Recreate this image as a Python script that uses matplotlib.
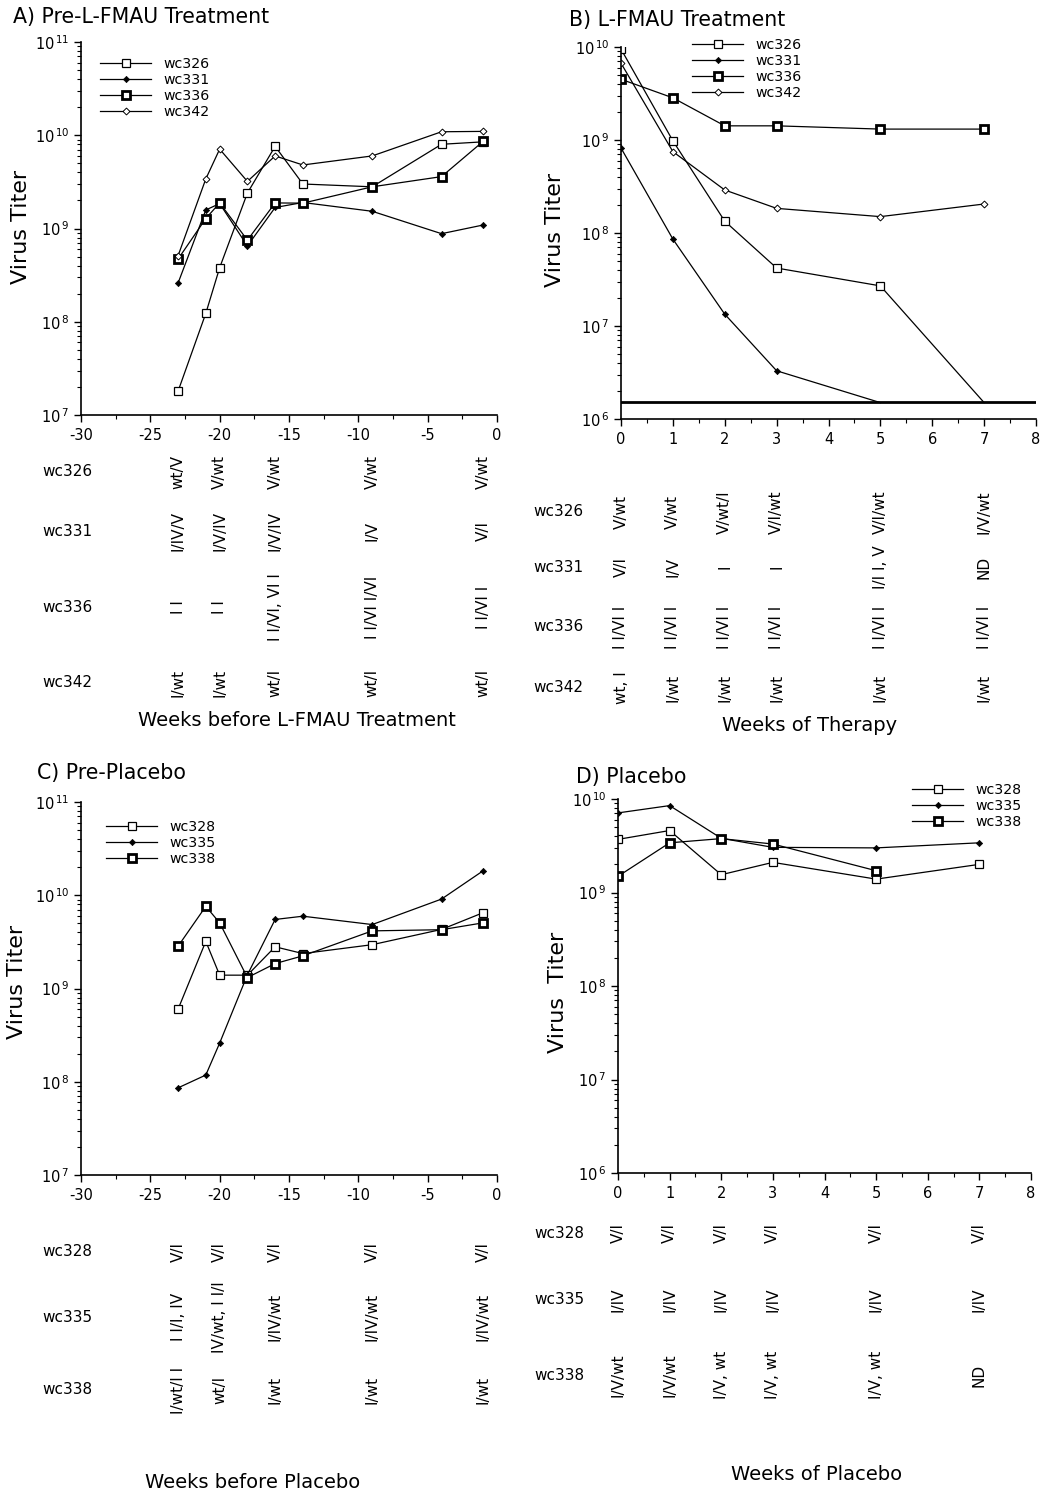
import numpy as np
import matplotlib
matplotlib.use('Agg')
import matplotlib.pyplot as plt
from matplotlib.ticker import LogLocator, FuncFormatter, MultipleLocator, NullFormatter
from matplotlib.transforms import blended_transform_factory

plt.rcParams['axes.unicode_minus'] = False

# --- data ---
pre_weeks = [-23, -21, -20, -18, -16, -14, -9, -4, -1]
A_wc326 = [1.8e7, 1.23e8, 3.8e8, 2.4e9, 7.6e9, 3.0e9, 2.8e9, 8.0e9, 8.5e9]
A_wc331 = [2.6e8, 1.58e9, 1.85e9, 6.5e8, 1.68e9, 1.9e9, 1.53e9, 8.8e8, 1.09e9]
A_wc336 = [4.7e8, 1.28e9, 1.88e9, 7.5e8, 1.88e9, 1.87e9, 2.8e9, 3.6e9, 8.6e9]
A_wc342 = [5.1e8, 3.4e9, 7.1e9, 3.2e9, 6.0e9, 4.8e9, 6.0e9, 1.09e10, 1.1e10]

tx_weeks = [0, 1, 2, 3, 5, 7]
B_wc326 = [9.5e9, 9.8e8, 1.34e8, 4.2e7, 2.7e7, 1.5e6]
B_wc331_weeks = [0, 1, 2, 3, 5]
B_wc331 = [8.2e8, 8.6e7, 1.34e7, 3.3e6, 1.5e6]
B_wc336 = [4.5e9, 2.84e9, 1.42e9, 1.42e9, 1.31e9, 1.31e9]
B_wc342 = [6.7e9, 7.5e8, 2.9e8, 1.84e8, 1.5e8, 2.05e8]
B_limit = 1.52e6

C_wc328 = [6.0e8, 3.2e9, 1.39e9, 1.39e9, 2.8e9, 2.37e9, 2.95e9, 4.3e9, 6.5e9]
C_wc335 = [8.6e7, 1.18e8, 2.6e8, 1.4e9, 5.5e9, 5.96e9, 4.85e9, 9.1e9, 1.83e10]
C_wc338 = [2.84e9, 7.6e9, 5.06e9, 1.31e9, 1.85e9, 2.24e9, 4.15e9, 4.27e9, 5.06e9]

D_wc328 = [3.7e9, 4.6e9, 1.55e9, 2.1e9, 1.39e9, 2.0e9]
D_wc335 = [7.1e9, 8.5e9, 3.8e9, 3.04e9, 3.0e9, 3.4e9]
D_wc338_weeks = [0, 1, 2, 3, 5]
D_wc338 = [1.49e9, 3.4e9, 3.77e9, 3.3e9, 1.71e9]

# genotype annotations under each panel
pre_ann_weeks = [-23, -20, -16, -9, -1]
A_txt_wc326 = ['wt/V', 'V/wt', 'V/wt', 'V/wt', 'V/wt']
A_txt_wc331 = ['I/IV/V', 'I/V/IV', 'I/V/IV', 'I/V', 'V/I']
A_txt_wc336 = ['I I', 'I I', 'I I/VI, VI I', 'I I/VI I/VI', 'I I/VI I']
A_txt_wc342 = ['I/wt', 'I/wt', 'wt/I', 'wt/I', 'wt/I']

B_txt_wc326 = ['V/wt', 'V/wt', 'V/wt/I', 'V/I/wt', 'V/I/wt', 'I/V/wt']
B_txt_wc331 = ['V/I', 'I/V', 'I', 'I', 'I/I I, V', 'ND']
B_txt_wc336 = ['I I/VI I'] * 6
B_txt_wc342 = ['wt, I', 'I/wt', 'I/wt', 'I/wt', 'I/wt', 'I/wt']

C_txt_wc328 = ['V/I', 'V/I', 'V/I', 'V/I', 'V/I']
C_txt_wc335 = ['I I/I, IV', 'IV/wt, I I/I', 'I/IV/wt', 'I/IV/wt', 'I/IV/wt']
C_txt_wc338 = ['I/wt/I I', 'wt/I', 'I/wt', 'I/wt', 'I/wt']

D_txt_wc328 = ['V/I'] * 6
D_txt_wc335 = ['I/IV'] * 6
D_txt_wc338 = ['I/V/wt', 'I/V/wt', 'I/V, wt', 'I/V, wt', 'I/V, wt', 'ND']

W, H = 1041, 1489
fig = plt.figure(figsize=(W / 100, H / 100), dpi=100)


def px_axes(l, t, r, b):
    return fig.add_axes([l / W, 1 - b / H, (r - l) / W, (b - t) / H])


def sup(v, pos):
    return r'$10^{\,%d}$' % int(round(np.log10(v)))


def style(ax, xlim, ylim, xmajor, xminor):
    ax.set_yscale('log')
    ax.set_xlim(*xlim)
    ax.set_ylim(*ylim)
    for s in ['top', 'right']:
        ax.spines[s].set_visible(False)
    ax.spines['left'].set_linewidth(1.2)
    ax.spines['bottom'].set_linewidth(1.2)
    ax.xaxis.set_major_locator(MultipleLocator(xmajor))
    ax.xaxis.set_minor_locator(MultipleLocator(xminor))
    ax.yaxis.set_major_locator(LogLocator(base=10))
    ax.yaxis.set_minor_locator(LogLocator(base=10, subs=np.arange(2, 10)))
    ax.yaxis.set_major_formatter(FuncFormatter(sup))
    ax.yaxis.set_minor_formatter(NullFormatter())
    ax.tick_params(axis='both', which='major', direction='out', length=5, width=1, labelsize=10.5)
    ax.tick_params(axis='both', which='minor', direction='out', length=3, width=0.8)
    ax.tick_params(axis='x', pad=4)


open_sq = dict(marker='s', ms=6, mfc='white', mec='black', mew=0.9)
fill_dm = dict(marker='D', ms=3.2, mfc='black', mec='black', mew=0.5)
bold_sq = dict(marker='s', ms=6, mfc='white', mec='black', mew=2.0)
open_dm = dict(marker='D', ms=3.5, mfc='white', mec='black', mew=0.7)
line_kw = dict(color='black', lw=0.9)


def legend(ax, x, y):
    ax.legend(loc='upper left', bbox_to_anchor=(x / W, 1 - y / H), bbox_transform=fig.transFigure,
              frameon=False, fontsize=10.2, handlelength=3.6, handletextpad=0.9, labelspacing=0.15,
              borderpad=0, borderaxespad=0)


def annotate(ax, weeks, rows, ys, labels, label_x):
    tr = blended_transform_factory(ax.transData, fig.transFigure)
    for name, txts, y in zip(labels, rows, ys):
        fig.text(label_x / W, 1 - y / H, name, ha='center', va='center', fontsize=11)
        for wk, t in zip(weeks, txts):
            ax.text(wk, 1 - y / H, t, transform=tr, rotation=90, ha='center', va='center',
                    fontsize=11, clip_on=False)


# ---- A ----
axA = px_axes(81, 42, 497, 415)
axA.plot(pre_weeks, A_wc326, label='wc326', **line_kw, **open_sq)
axA.plot(pre_weeks, A_wc331, label='wc331', **line_kw, **fill_dm)
axA.plot(pre_weeks, A_wc336, label='wc336', **line_kw, **bold_sq)
axA.plot(pre_weeks, A_wc342, label='wc342', **line_kw, **open_dm)
style(axA, (-30, 0), (1e7, 1e11), 5, 2.5)
legend(axA, 100, 57)
annotate(axA, pre_ann_weeks, [A_txt_wc326, A_txt_wc331, A_txt_wc336, A_txt_wc342],
         [472, 531, 607, 683], ['wc326', 'wc331', 'wc336', 'wc342'], 67)

# ---- B ----
axB = px_axes(621, 47, 1036, 419)
axB.plot(tx_weeks, B_wc326, label='wc326', markevery=[0, 1, 2, 3, 4], **line_kw, **open_sq)
axB.plot(B_wc331_weeks, B_wc331, label='wc331', markevery=[0, 1, 2, 3], **line_kw, **fill_dm)
axB.plot(tx_weeks, B_wc336, label='wc336', **line_kw, **bold_sq)
axB.plot(tx_weeks, B_wc342, label='wc342', **line_kw, **open_dm)
axB.axhline(B_limit, color='black', lw=2)
style(axB, (0, 8), (1e6, 1e10), 1, 0.5)
legend(axB, 692, 38)
annotate(axB, tx_weeks, [B_txt_wc326, B_txt_wc331, B_txt_wc336, B_txt_wc342],
         [512, 567, 627, 688], ['wc326', 'wc331', 'wc336', 'wc342'], 558)

# ---- C ----
axC = px_axes(81, 802, 497, 1175)
axC.plot(pre_weeks, C_wc328, label='wc328', **line_kw, **open_sq)
axC.plot(pre_weeks, C_wc335, label='wc335', **line_kw, **fill_dm)
axC.plot(pre_weeks, C_wc338, label='wc338', **line_kw, **bold_sq)
style(axC, (-30, 0), (1e7, 1e11), 5, 2.5)
legend(axC, 106, 820)
annotate(axC, pre_ann_weeks, [C_txt_wc328, C_txt_wc335, C_txt_wc338],
         [1252, 1317, 1390], ['wc328', 'wc335', 'wc338'], 67)

# ---- D ----
axD = px_axes(618, 799, 1031, 1173)
axD.plot(tx_weeks, D_wc328, label='wc328', **line_kw, **open_sq)
axD.plot(tx_weeks, D_wc335, label='wc335', **line_kw, **fill_dm)
axD.plot(D_wc338_weeks, D_wc338, label='wc338', **line_kw, **bold_sq)
style(axD, (0, 8), (1e6, 1e10), 1, 0.5)
legend(axD, 912, 783)
annotate(axD, tx_weeks, [D_txt_wc328, D_txt_wc335, D_txt_wc338],
         [1233, 1300, 1375], ['wc328', 'wc335', 'wc338'], 559)

# titles and axis labels
for x, y, t in [(13, 17, 'A) Pre-L-FMAU Treatment'), (569, 20, 'B) L-FMAU Treatment'),
                (37, 773, 'C) Pre-Placebo'), (576, 777, 'D) Placebo')]:
    fig.text(x / W, 1 - y / H, t, ha='left', va='center', fontsize=14.8)

for x, y, t in [(21, 227, 'Virus Titer'), (555, 230, 'Virus Titer'),
                (17, 982, 'Virus Titer'), (558, 992, 'Virus  Titer')]:
    fig.text(x / W, 1 - y / H, t, ha='center', va='center', rotation=90, fontsize=16)

for x, y, t in [(297, 720, 'Weeks before L-FMAU Treatment'), (810, 725, 'Weeks of Therapy'),
                (253, 1482, 'Weeks before Placebo'), (817, 1475, 'Weeks of Placebo')]:
    fig.text(x / W, 1 - y / H, t, ha='center', va='center', fontsize=14)

fig.savefig('out.png', dpi=100)
